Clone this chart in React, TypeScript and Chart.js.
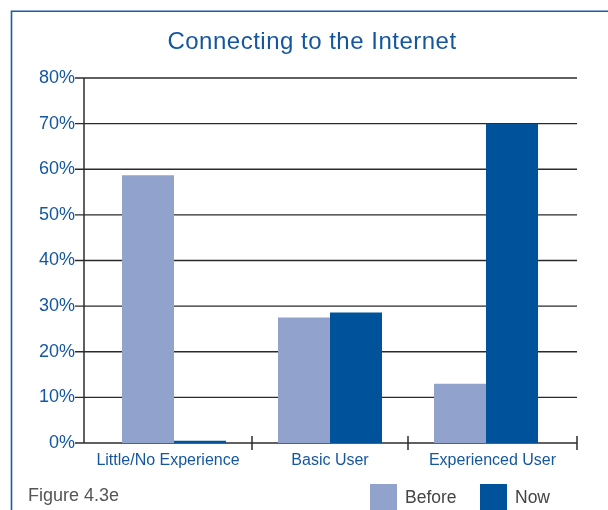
import { useEffect, useRef } from 'react';
import { Chart, registerables } from 'chart.js';

Chart.register(...registerables);

const chartTitle = 'Connecting to the Internet';
const figureLabel = 'Figure 4.3e';
const categories = ['Little/No Experience', 'Basic User', 'Experienced User'];
const seriesNames = ['Before', 'Now'];
const beforeValues = [58.7, 27.5, 13.0];
const nowValues = [0.5, 28.6, 70.0];
const yMin = 0;
const yMax = 80;
const yStep = 10;

const FONT = "'Liberation Sans', Arial, Helvetica, sans-serif";
const BLUE_TEXT = '#14569f';
const FRAME = '#1a5aa6';
const GRID = '#2b2b2b';
const BEFORE_COLOR = '#91A3CC';
const NOW_COLOR = '#00529B';

const decorPlugin = {
  id: 'decor',
  beforeDraw(chart: any) {
    const ctx = chart.ctx;
    ctx.save();
    ctx.fillStyle = '#ffffff';
    ctx.fillRect(0, 0, chart.width, chart.height);
    // frame (left and top)
    ctx.strokeStyle = FRAME;
    ctx.lineWidth = 1.6;
    ctx.beginPath();
    ctx.moveTo(11.5, chart.height);
    ctx.lineTo(11.5, 11.25);
    ctx.lineTo(chart.width, 11.25);
    ctx.stroke();
    ctx.restore();
  },
  beforeDatasetsDraw(chart: any) {
    const ctx = chart.ctx;
    const area = chart.chartArea;
    const y = chart.scales.y;
    const x = chart.scales.x;
    const axisLeft = area.left - 12;
    const axisRight = area.right + 13;
    ctx.save();
    ctx.strokeStyle = GRID;
    ctx.lineWidth = 1.3;
    // horizontal grid lines with tick stubs
    y.ticks.forEach((t: any) => {
      const py = y.getPixelForValue(t.value);
      ctx.beginPath();
      ctx.moveTo(axisLeft - 9, py);
      ctx.lineTo(axisRight, py);
      ctx.stroke();
    });
    // y axis line
    ctx.lineWidth = 1.5;
    ctx.beginPath();
    ctx.moveTo(axisLeft, y.getPixelForValue(yMax));
    ctx.lineTo(axisLeft, y.getPixelForValue(yMin));
    ctx.stroke();
    // x axis tick marks at category boundaries
    const bottom = y.getPixelForValue(yMin);
    const bounds: number[] = [];
    for (let i = 1; i < categories.length; i++) {
      bounds.push((x.getPixelForValue(i - 1) + x.getPixelForValue(i)) / 2);
    }
    bounds.push(axisRight);
    bounds.forEach((bx) => {
      ctx.beginPath();
      ctx.moveTo(bx, bottom - 7);
      ctx.lineTo(bx, bottom + 7);
      ctx.stroke();
    });
    ctx.restore();
  },
  afterDraw(chart: any) {
    const ctx = chart.ctx;
    const area = chart.chartArea;
    const x = chart.scales.x;
    const y = chart.scales.y;
    const axisLeft = area.left - 12;
    const axisRight = area.right + 13;
    ctx.save();
    // title
    ctx.fillStyle = BLUE_TEXT;
    ctx.font = `24px ${FONT}`;
    (ctx as any).letterSpacing = '0.5px';
    ctx.textAlign = 'center';
    ctx.textBaseline = 'alphabetic';
    ctx.fillText(chartTitle, 312, 49);
    (ctx as any).letterSpacing = '0px';
    // category labels centred between boundaries
    const b: number[] = [axisLeft];
    for (let i = 1; i < categories.length; i++) {
      b.push((x.getPixelForValue(i - 1) + x.getPixelForValue(i)) / 2);
    }
    b.push(axisRight);
    ctx.font = `16px ${FONT}`;
    ctx.fillStyle = BLUE_TEXT;
    const base = y.getPixelForValue(yMin) + 22;
    categories.forEach((c, i) => {
      ctx.fillText(c, (b[i] + b[i + 1]) / 2, base);
    });
    // figure label
    ctx.textAlign = 'left';
    ctx.fillStyle = '#555555';
    ctx.font = `18px ${FONT}`;
    ctx.fillText(figureLabel, 28, 501);
    // legend
    const colors = [BEFORE_COLOR, NOW_COLOR];
    const lx = [370, 480];
    ctx.font = `17.5px ${FONT}`;
    seriesNames.forEach((n, i) => {
      ctx.fillStyle = colors[i];
      ctx.fillRect(lx[i], 484, 27, 26);
      ctx.fillStyle = '#444444';
      ctx.fillText(n, lx[i] + 35, 503);
    });
    ctx.restore();
  },
};

export default function App() {
  const ref = useRef<HTMLCanvasElement | null>(null);
  useEffect(() => {
    if (!ref.current) return;
    const chart = new Chart(ref.current, {
      type: 'bar',
      data: {
        labels: categories,
        datasets: [
          {
            label: seriesNames[0],
            data: beforeValues,
            backgroundColor: BEFORE_COLOR,
            borderWidth: 0,
            categoryPercentage: 2 / 3,
            barPercentage: 1,
          },
          {
            label: seriesNames[1],
            data: nowValues,
            backgroundColor: NOW_COLOR,
            borderWidth: 0,
            categoryPercentage: 2 / 3,
            barPercentage: 1,
          },
        ],
      },
      options: {
        responsive: false,
        animation: false,
        devicePixelRatio: 1,
        layout: { padding: { top: 78, right: 44, bottom: 67, left: 0 } },
        plugins: {
          legend: { display: false },
          title: { display: false },
          tooltip: { enabled: false },
        },
        scales: {
          x: {
            display: false,
            offset: true,
          },
          y: {
            min: yMin,
            max: yMax,
            grid: { display: false, drawTicks: false },
            border: { display: false },
            ticks: {
              stepSize: yStep,
              padding: 21,
              color: BLUE_TEXT,
              font: { family: FONT, size: 18 },
              callback: (v: any) => `${v}%`,
            },
            afterFit: (scale: any) => {
              scale.width = 96;
            },
          },
        },
      },
      plugins: [decorPlugin],
    });
    return () => chart.destroy();
  }, []);
  return (
    <div style={{ position: 'absolute', left: 0, top: 0, width: 608, height: 510 }}>
      <canvas ref={ref} width={608} height={510} />
    </div>
  );
}
